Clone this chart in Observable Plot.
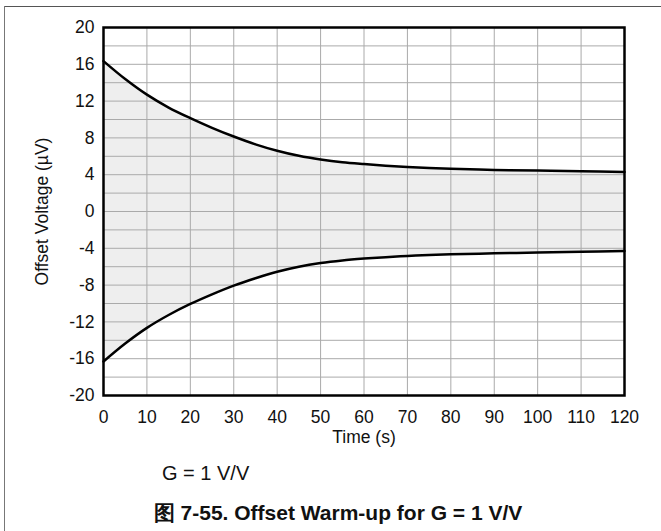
<!DOCTYPE html>
<html>
<head>
<meta charset="utf-8">
<script src="https://cdn.jsdelivr.net/npm/d3@7"></script>
<script src="https://cdn.jsdelivr.net/npm/@observablehq/plot@0.6"></script>
<style>
  html, body { margin: 0; padding: 0; background: #fff; }
  #wrap { position: relative; width: 661px; height: 531px; overflow: hidden; font-family: "Liberation Sans", Arial, sans-serif; }
  #frameTop { position: absolute; left: 4px; top: 6px; width: 657px; height: 0; border-top: 1.5px solid #555; }
  #frameLeft { position: absolute; left: 4px; top: 6px; width: 0; height: 525px; border-left: 1.5px solid #777; }
  #chart { position: absolute; left: 0; top: 0; }
  #note { position: absolute; left: 162px; top: 461px; font-size: 20px; line-height: 24px; color: #111; white-space: nowrap; }
  #caption { position: absolute; left: 0; width: 676px; top: 501px; text-align: center; font-size: 21px; line-height: 24px; font-weight: bold; color: #111; white-space: nowrap; }
</style>
</head>
<body>
<div id="wrap">
  <div id="chart"></div>
  <div id="frameTop"></div>
  <div id="frameLeft"></div>
  <div id="note">G = 1 V/V</div>
  <div id="caption">图 7-55. Offset Warm-up for G = 1 V/V</div>
</div>
<script>
// Data
const time   = [0, 5, 10, 15, 20, 25, 30, 35, 40, 45, 50, 55, 60, 65, 70, 75, 80, 90, 100, 110, 120];
const upper  = [16.35, 14.4, 12.7, 11.3, 10.15, 9.1, 8.15, 7.3, 6.6, 6.05, 5.65, 5.35, 5.15, 4.98, 4.85, 4.74, 4.65, 4.52, 4.45, 4.38, 4.3];
const lower  = [-16.3, -14.35, -12.65, -11.25, -10.05, -9.0, -8.05, -7.25, -6.55, -6.0, -5.6, -5.32, -5.12, -4.96, -4.84, -4.73, -4.65, -4.55, -4.45, -4.38, -4.3];
const xTicks = [0, 10, 20, 30, 40, 50, 60, 70, 80, 90, 100, 110, 120];
const yTicks = [-20, -16, -12, -8, -4, 0, 4, 8, 12, 16, 20];
const yGrid  = [-18, -16, -14, -12, -10, -8, -6, -4, -2, 0, 2, 4, 6, 8, 10, 12, 14, 16, 18];
const xLabel = "Time (s)";
const yLabel = "Offset Voltage (µV)";

const rows = time.map((t, i) => ({t, hi: upper[i], lo: lower[i]}));

const plot = Plot.plot({
  width: 661,
  height: 455,
  marginLeft: 103,
  marginRight: 37,
  marginTop: 27,
  marginBottom: 60,
  style: {fontFamily: "'Liberation Sans', Arial, sans-serif", fontSize: "17.5px", color: "#111", background: "transparent"},
  x: {domain: [0, 120], ticks: xTicks, tickFormat: d => String(d), tickSize: 0, tickPadding: 15, label: null},
  y: {domain: [-20, 20], ticks: yTicks, tickFormat: d => String(d), tickSize: 0, tickPadding: 9, label: null},
  marks: [
    Plot.areaY(rows, {x: "t", y1: "lo", y2: "hi", fill: "#eeeeee", curve: "catmull-rom"}),
    Plot.ruleX(xTicks, {stroke: "#aaaaaa", strokeWidth: 1}),
    Plot.ruleY(yGrid, {stroke: "#aaaaaa", strokeWidth: 1}),
    Plot.line(rows, {x: "t", y: "hi", stroke: "#000", strokeWidth: 2.5, curve: "catmull-rom"}),
    Plot.line(rows, {x: "t", y: "lo", stroke: "#000", strokeWidth: 2.5, curve: "catmull-rom"}),
    Plot.frame({stroke: "#000", strokeWidth: 2.5}),
    Plot.text([xLabel], {frameAnchor: "bottom", dy: 47, fontSize: 17.5, fill: "#111"}),
    Plot.text([yLabel], {frameAnchor: "left", textAnchor: "middle", dx: -61, rotate: -90, fontSize: 17.5, fill: "#111"})
  ]
});
document.getElementById("chart").appendChild(plot);
</script>
</body>
</html>
